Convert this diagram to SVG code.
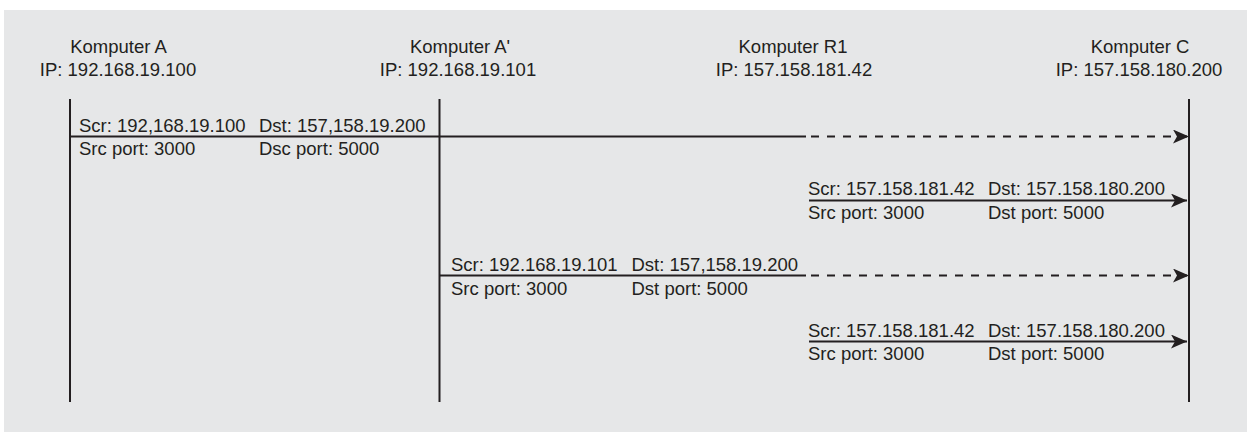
<svg xmlns="http://www.w3.org/2000/svg" width="1247" height="432" viewBox="0 0 1247 432">
  <style>
    .bg { fill: #e6e7e8; }
    .txt { font-family: "Liberation Sans", Arial, sans-serif; font-size: 18.5px; fill: #231f20; }
    .head { text-anchor: middle; }
    .life { stroke: #231f20; stroke-width: 2; fill: none; }
    .msg { stroke: #231f20; stroke-width: 1.8; fill: none; }
    .dash { stroke: #231f20; stroke-width: 2; fill: none; stroke-dasharray: 8 8; }
  </style>
  <defs>
    <marker id="arrow" viewBox="0 0 16 14" refX="16" refY="7" markerWidth="16" markerHeight="14" markerUnits="userSpaceOnUse" orient="auto">
      <path d="M0,0 L16,7 L0,14 L4,7 Z" fill="#231f20"/>
    </marker>
  </defs>

  <rect class="bg" x="4" y="10" width="1243" height="422"/>

  <!-- lifelines -->
  <g id="node-a">
    <text class="txt head" x="118.5" y="52.5">Komputer A</text>
    <text class="txt head" x="118" y="76">IP: 192.168.19.100</text>
    <line class="life" x1="70" y1="99" x2="70" y2="402"/>
  </g>
  <g id="node-a-prime">
    <text class="txt head" x="460" y="52.5">Komputer A'</text>
    <text class="txt head" x="458" y="76">IP: 192.168.19.101</text>
    <line class="life" x1="439.5" y1="99" x2="439.5" y2="402"/>
  </g>
  <g id="node-r1">
    <text class="txt head" x="793" y="52.5">Komputer R1</text>
    <text class="txt head" x="794" y="76">IP: 157.158.181.42</text>
  </g>
  <g id="node-c">
    <text class="txt head" x="1140" y="52.5">Komputer C</text>
    <text class="txt head" x="1139" y="76">IP: 157.158.180.200</text>
    <line class="life" x1="1189" y1="99" x2="1189" y2="402"/>
  </g>

  <!-- messages -->
  <g id="connectors">
    <g id="msg-1">
      <line class="msg" x1="70" y1="136.5" x2="806" y2="136.5"/>
      <line class="dash" x1="811" y1="136.5" x2="1189" y2="136.5" marker-end="url(#arrow)"/>
      <text class="txt" x="79" y="131.5">Scr: 192,168.19.100</text>
      <text class="txt" x="259" y="131.5">Dst: 157,158.19.200</text>
      <text class="txt" x="79" y="155">Src port: 3000</text>
      <text class="txt" x="259" y="155">Dsc port: 5000</text>
    </g>
    <g id="msg-2">
      <line class="msg" x1="809" y1="200.5" x2="1187" y2="200.5" marker-end="url(#arrow)"/>
      <text class="txt" x="808" y="195">Scr: 157.158.181.42</text>
      <text class="txt" x="988" y="195">Dst: 157.158.180.200</text>
      <text class="txt" x="808" y="219">Src port: 3000</text>
      <text class="txt" x="988" y="219">Dst port: 5000</text>
    </g>
    <g id="msg-3">
      <line class="msg" x1="439.5" y1="275.5" x2="806" y2="275.5"/>
      <line class="dash" x1="811" y1="275.5" x2="1189" y2="275.5" marker-end="url(#arrow)"/>
      <text class="txt" x="451" y="271">Scr: 192.168.19.101</text>
      <text class="txt" x="631.5" y="271">Dst: 157,158.19.200</text>
      <text class="txt" x="451" y="294.5">Src port: 3000</text>
      <text class="txt" x="631.5" y="294.5">Dst port: 5000</text>
    </g>
    <g id="msg-4">
      <line class="msg" x1="809" y1="341.5" x2="1187" y2="341.5" marker-end="url(#arrow)"/>
      <text class="txt" x="808" y="337">Scr: 157.158.181.42</text>
      <text class="txt" x="988" y="337">Dst: 157.158.180.200</text>
      <text class="txt" x="808" y="359.5">Src port: 3000</text>
      <text class="txt" x="988" y="359.5">Dst port: 5000</text>
    </g>
  </g>
</svg>
